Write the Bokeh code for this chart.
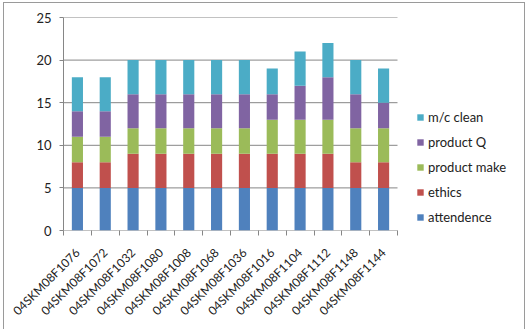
from math import pi

from bokeh.embed import file_html
from bokeh.resources import INLINE
from bokeh.plotting import figure
from bokeh.models import (ColumnDataSource, FixedTicker, Legend, LegendItem,
                          Range1d)

# Scores per trainee, stacked by criterion
trainees = ["04SKM08F1076", "04SKM08F1072", "04SKM08F1032", "04SKM08F1080",
            "04SKM08F1008", "04SKM08F1068", "04SKM08F1036", "04SKM08F1016",
            "04SKM08F1104", "04SKM08F1112", "04SKM08F1148", "04SKM08F1144"]
attendence = [5, 5, 5, 5, 5, 5, 5, 5, 5, 5, 5, 5]
ethics = [3, 3, 4, 4, 4, 4, 4, 4, 4, 4, 3, 3]
product_make = [3, 3, 3, 3, 3, 3, 3, 4, 4, 4, 4, 4]
product_q = [3, 3, 4, 4, 4, 4, 4, 3, 4, 5, 4, 3]
mc_clean = [4, 4, 4, 4, 4, 4, 4, 3, 4, 4, 4, 4]
series_names = ["attendence", "ethics", "product make", "product Q", "m/c clean"]
y_ticks = [0, 5, 10, 15, 20, 25]

colors = ["#4F81BD", "#C0504D", "#9BBB59", "#8064A2", "#4BACC6"]
keys = ["attendence", "ethics", "product_make", "product_q", "mc_clean"]

n = len(trainees)
x_pos = [i + 0.5 for i in range(n)]
source = ColumnDataSource(dict(x=x_pos, attendence=attendence, ethics=ethics,
                               product_make=product_make, product_q=product_q,
                               mc_clean=mc_clean))

FONT = "Lato"
GRID = "#868686"
TEXT = "#222222"

# The plot area runs on past the last category so the legend can sit
# to the right of the bars; the category band itself is 334 px wide.
W, H = 528, 329
LEFT, TOP, BOTTOM = 63, 17, 99
band_px = 334
x_end = n * (W - LEFT) / band_px

p = figure(width=W, height=H, output_backend="svg", toolbar_location=None,
           x_range=Range1d(0, x_end), y_range=Range1d(0, 25),
           min_border_left=LEFT, min_border_right=0,
           min_border_top=TOP, min_border_bottom=BOTTOM)
p.outline_line_color = None
p.background_fill_color = "white"
p.border_fill_color = "white"

# thin grey frame around the whole chart (open at the bottom edge)
p.stylesheets = [""":host { position: relative; }
:host::after { content: ""; position: absolute; left: 3px; top: 2px;
  width: 522px; height: 400px; border: 1px solid #9a9a9a;
  pointer-events: none; box-sizing: border-box; }"""]

# horizontal gridlines across the category band only
p.segment(x0=[0] * len(y_ticks), x1=[n] * len(y_ticks), y0=y_ticks, y1=y_ticks,
          line_color=GRID, line_width=1)

renderers = p.vbar_stack(keys, x="x", width=0.4, color=colors, source=source,
                         line_color=None)

# y axis
p.yaxis.ticker = FixedTicker(ticks=y_ticks)
p.yaxis.axis_line_color = GRID
p.yaxis.major_tick_line_color = GRID
p.yaxis.major_tick_in = 0
p.yaxis.major_tick_out = 4
p.yaxis.minor_tick_line_color = None
p.yaxis.major_label_text_font = FONT
p.yaxis.major_label_text_font_size = "13px"
p.yaxis.major_label_text_color = TEXT
p.yaxis.major_label_standoff = 8
p.grid.grid_line_color = None

# x axis: labels at bar centres, tick marks on category boundaries
p.xaxis.ticker = FixedTicker(ticks=x_pos, minor_ticks=list(range(n + 1)))
p.xaxis.major_label_overrides = {x: name for x, name in zip(x_pos, trainees)}
p.xaxis.major_label_orientation = pi / 4
p.xaxis.major_tick_line_color = None
p.xaxis.minor_tick_line_color = GRID
p.xaxis.minor_tick_in = 0
p.xaxis.minor_tick_out = 5
p.xaxis.axis_line_color = None
p.xaxis.major_label_text_font = FONT
p.xaxis.major_label_text_font_size = "12px"
p.xaxis.major_label_text_color = TEXT
p.xaxis.major_label_standoff = 14

items = [LegendItem(label=name, renderers=[r])
         for name, r in zip(series_names, renderers)][::-1]
legend = Legend(items=items, location=(353, 3), orientation="vertical",
                glyph_width=8, glyph_height=8, label_height=20, spacing=5,
                padding=0, margin=0, label_standoff=4,
                label_text_font=FONT, label_text_font_size="13px",
                label_text_color=TEXT,
                border_line_color=None, background_fill_alpha=0)
p.add_layout(legend, "center")

open("out.html", "w").write(file_html(p, INLINE))
